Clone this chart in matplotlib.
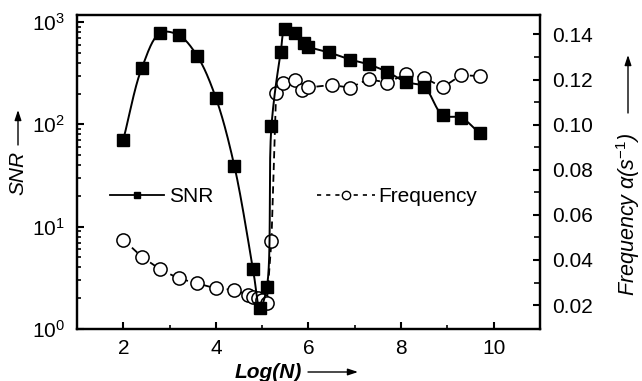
import numpy as np
import matplotlib
matplotlib.use("Agg")
import matplotlib.pyplot as plt
from matplotlib.lines import Line2D
from matplotlib.ticker import FixedLocator, MultipleLocator, LogLocator, NullFormatter

# ---------------- data ----------------
snr_x = [2.0, 2.4, 2.8, 3.2, 3.6, 4.0, 4.4, 4.8, 4.95, 5.1, 5.2, 5.4, 5.5, 5.7,
         5.9, 6.0, 6.45, 6.9, 7.3, 7.7, 8.1, 8.5, 8.9, 9.3, 9.7]
snr_y = [71, 356, 783, 743, 463, 181, 39, 3.9, 1.6, 2.55, 96, 504, 864, 790,
         630, 576, 504, 430, 385, 326, 260, 232, 123, 116, 81.5]

freq_x = [2.0, 2.4, 2.8, 3.2, 3.6, 4.0, 4.4, 4.7, 4.8, 4.9, 5.0, 5.1, 5.2, 5.3,
          5.45, 5.7, 5.85, 6.0, 6.5, 6.9, 7.3, 7.7, 8.1, 8.5, 8.9, 9.3, 9.7]
freq_y = [0.0490, 0.0414, 0.0358, 0.0318, 0.0296, 0.0274, 0.0267, 0.0244,
          0.0237, 0.0230, 0.0222, 0.0209, 0.0485, 0.1139, 0.1186, 0.1198,
          0.1153, 0.1165, 0.1176, 0.1164, 0.1202, 0.1186, 0.1224, 0.1208,
          0.1165, 0.1220, 0.1215]

x_ticks = [2, 4, 6, 8, 10]
freq_ticks = [0.02, 0.04, 0.06, 0.08, 0.10, 0.12, 0.14]
freq_tick_labels = ["0.02", "0.04", "0.06", "0.08", "0.10", "0.12", "0.14"]

# ---------------- style ----------------
plt.rcParams['font.family'] = ['Liberation Sans', 'DejaVu Sans']
plt.rcParams['mathtext.fontset'] = 'custom'
plt.rcParams['mathtext.rm'] = 'Liberation Sans'
plt.rcParams['mathtext.it'] = 'Liberation Sans:italic'
plt.rcParams['mathtext.bf'] = 'Liberation Sans:bold'

TICK_FS = 15
LAB_FS = 15


def smooth_curve(xs, ys, sx, sy, n=30, alpha=0.5):
    """Centripetal Catmull-Rom curve through the points (drawing only)."""
    P = np.column_stack([np.asarray(xs) * sx, np.log10(ys) * sy])
    P = np.vstack([2 * P[0] - P[1], P, 2 * P[-1] - P[-2]])
    out = []
    for i in range(1, len(P) - 2):
        p0, p1, p2, p3 = P[i - 1], P[i], P[i + 1], P[i + 2]
        t0 = 0.0
        t1 = t0 + np.linalg.norm(p1 - p0) ** alpha
        t2 = t1 + np.linalg.norm(p2 - p1) ** alpha
        t3 = t2 + np.linalg.norm(p3 - p2) ** alpha
        t = np.linspace(t1, t2, n)[:, None]
        A1 = (t1 - t) / (t1 - t0) * p0 + (t - t0) / (t1 - t0) * p1
        A2 = (t2 - t) / (t2 - t1) * p1 + (t - t1) / (t2 - t1) * p2
        A3 = (t3 - t) / (t3 - t2) * p2 + (t - t2) / (t3 - t2) * p3
        B1 = (t2 - t) / (t2 - t0) * A1 + (t - t0) / (t2 - t0) * A2
        B2 = (t3 - t) / (t3 - t1) * A2 + (t - t1) / (t3 - t1) * A3
        C = (t2 - t) / (t2 - t1) * B1 + (t - t1) / (t2 - t1) * B2
        out.append(C)
    C = np.vstack(out)
    return C[:, 0] / sx, 10 ** (C[:, 1] / sy)


fig = plt.figure(figsize=(6.42, 3.81), dpi=100)
ax = fig.add_axes([0.12, 0.1365, 0.721, 0.824])
ax2 = ax.twinx()
ax.set_zorder(ax2.get_zorder() + 1)
ax.patch.set_visible(False)

# frequency (right axis)
ax2.plot(freq_x, freq_y, linestyle=(0, (4, 2.5)), color='black', lw=1.3,
         marker='o', markersize=9.5, markerfacecolor='white',
         markeredgecolor='black', markeredgewidth=1.1)

# SNR (left axis)
cx, cy = smooth_curve(snr_x, snr_y, 46.3, 102.4)
ax.plot(cx, cy, color='black', lw=1.4)
ax.plot(snr_x, snr_y, linestyle='none', marker='s', markersize=8,
        color='black')

ax.set_yscale('log')
ax.set_xlim(1, 11)
ax.set_ylim(1, 1170)
ax2.set_ylim(0.0094, 0.1486)

ax.set_xticks(x_ticks)
ax.set_xticklabels([str(v) for v in x_ticks])
ax.xaxis.set_minor_locator(MultipleLocator(1))
ax.yaxis.set_major_locator(FixedLocator([1, 10, 100, 1000]))
ax.set_yticklabels([r'$\mathdefault{10^{0}}$', r'$\mathdefault{10^{1}}$',
                    r'$\mathdefault{10^{2}}$', r'$\mathdefault{10^{3}}$'])
ax.yaxis.set_minor_locator(LogLocator(base=10, subs=np.arange(2, 10)))
ax.yaxis.set_minor_formatter(NullFormatter())

ax2.set_yticks(freq_ticks)
ax2.set_yticklabels(freq_tick_labels)
ax2.yaxis.set_minor_locator(FixedLocator([0.03, 0.05, 0.07, 0.09, 0.11, 0.13]))

for a in (ax, ax2):
    for s in a.spines.values():
        s.set_linewidth(1.6)
ax.tick_params(axis='both', which='major', direction='in', length=5, width=1.5,
               labelsize=TICK_FS, pad=7)
ax.tick_params(axis='both', which='minor', direction='in', length=3, width=1.2)
ax.tick_params(axis='y', which='major', pad=9)
ax.tick_params(axis='y', which='both', right=False)
ax2.tick_params(axis='y', which='major', direction='in', length=5, width=1.5,
                labelsize=TICK_FS, pad=9)
ax2.tick_params(axis='y', which='minor', direction='in', length=4, width=1.2)

# legends
h_snr = Line2D([], [], color='black', lw=1.3, marker='s', markersize=5)
h_freq = Line2D([], [], color='black', lw=1.2, linestyle=(0, (2.5, 3)),
                marker='o', markersize=6, markerfacecolor='white')
leg1 = ax.legend([h_snr], ['SNR'], loc='center left',
                 bbox_to_anchor=(0.071, 0.421), frameon=False,
                 fontsize=LAB_FS, handlelength=2.6, handletextpad=0.25,
                 borderpad=0, borderaxespad=0)
ax.add_artist(leg1)
ax.legend([h_freq], ['Frequency'], loc='center left',
          bbox_to_anchor=(0.518, 0.421), frameon=False,
          fontsize=LAB_FS, handlelength=2.8, handletextpad=0.15,
          borderpad=0, borderaxespad=0)

# axis labels with arrows
W, H = 642.0, 381.0
fig.text(18 / W, 1 - 173 / H, 'SNR', rotation=90, style='italic',
         fontsize=LAB_FS, ha='center', va='center')
fig.text(268 / W, 1 - 372 / H, 'Log(N)', style='italic', weight='bold',
         fontsize=LAB_FS, ha='center', va='center')
fig.text(628 / W, 1 - 214 / H,
         r'Frequency $\mathit{\alpha}$(s$^{\mathit{-1}}$)', rotation=90,
         style='italic', fontsize=LAB_FS + 0.5, ha='center', va='center')

arrow = dict(arrowstyle='-|>,head_length=0.6,head_width=0.2', color='black',
             lw=1.0, shrinkA=0, shrinkB=0)
ax.annotate('', xy=(18 / W, 1 - 110 / H), xytext=(18 / W, 1 - 145 / H),
            xycoords='figure fraction', textcoords='figure fraction',
            arrowprops=arrow, annotation_clip=False)
ax.annotate('', xy=(358 / W, 1 - 372 / H), xytext=(308 / W, 1 - 372 / H),
            xycoords='figure fraction', textcoords='figure fraction',
            arrowprops=arrow, annotation_clip=False)
ax.annotate('', xy=(628 / W, 1 - 55 / H), xytext=(628 / W, 1 - 113 / H),
            xycoords='figure fraction', textcoords='figure fraction',
            arrowprops=arrow, annotation_clip=False)

fig.savefig('out.png', dpi=100)
